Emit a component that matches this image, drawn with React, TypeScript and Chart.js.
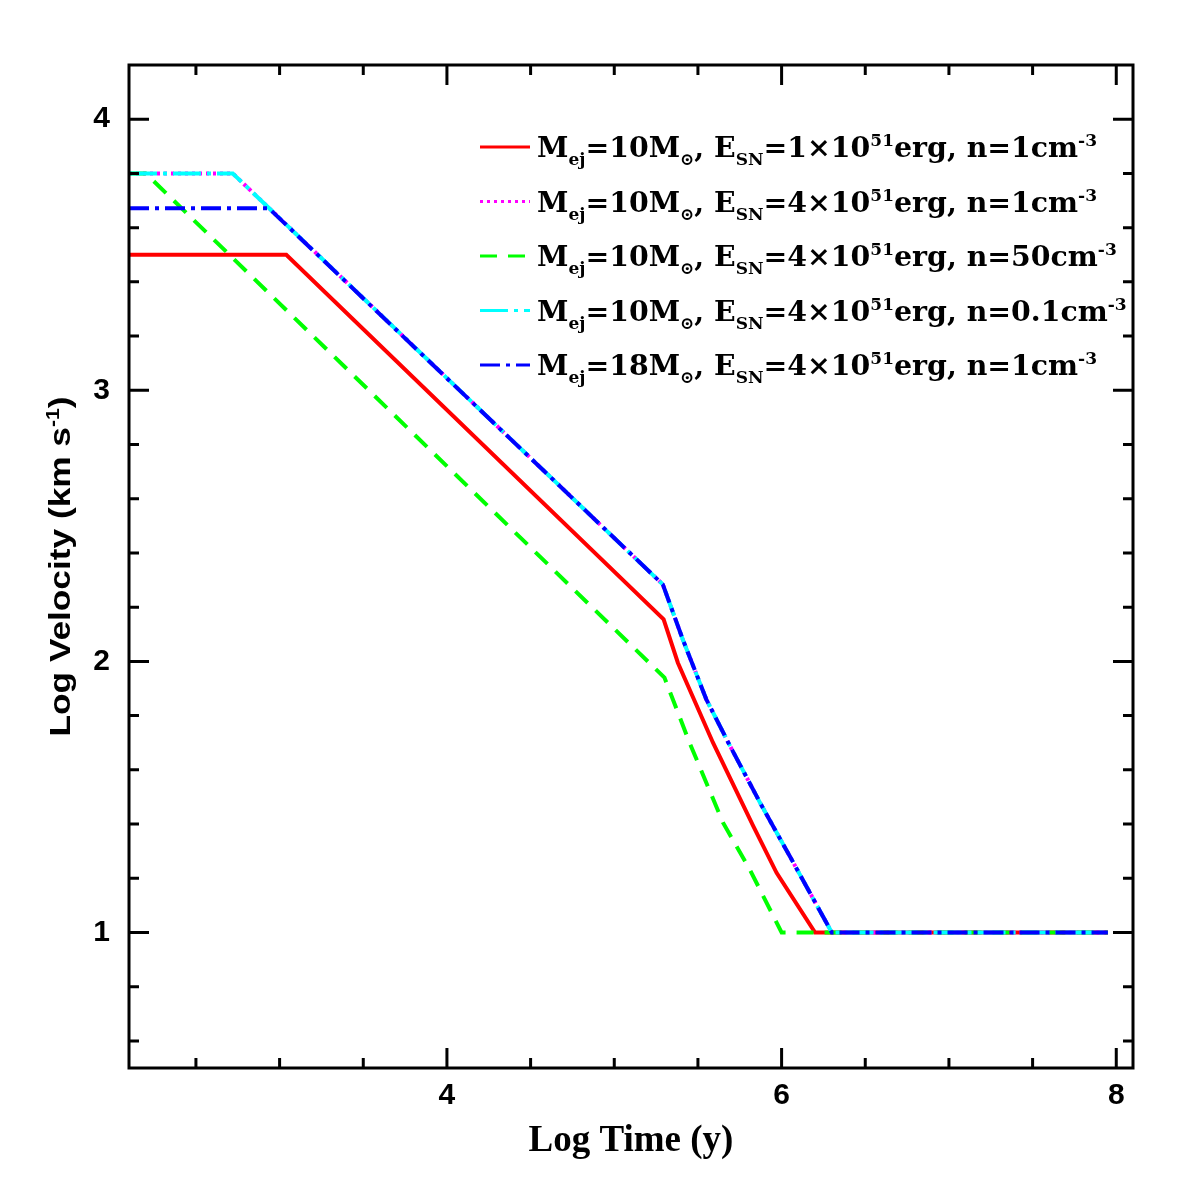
import React, { useEffect, useRef } from 'react';
import { Chart, registerables } from 'chart.js';

Chart.register(...registerables);

// ---------- data ----------
const logTimeRed = [2.1, 3.04, 5.295, 5.38, 5.59, 5.83, 5.97, 6.2, 7.95];
const logVelRed = [3.5, 3.5, 2.155, 1.995, 1.7, 1.393, 1.22, 1.0, 1.0];

const logTimeMagenta = [2.1, 2.72, 5.29, 5.41, 5.55, 5.69, 5.87, 6.05, 6.3, 7.95];
const logVelMagenta = [3.8, 3.8, 2.284, 2.08, 1.86, 1.69, 1.48, 1.28, 1.0, 1.0];

const logTimeGreen = [2.1, 2.2, 5.3, 5.45, 5.65, 5.81, 6.0, 7.95];
const logVelGreen = [3.8, 3.8, 1.94, 1.7, 1.405, 1.232, 1.0, 1.0];

const logTimeCyan = [2.1, 2.72, 5.29, 5.41, 5.55, 5.69, 5.87, 6.05, 6.3, 7.95];
const logVelCyan = [3.8, 3.8, 2.284, 2.08, 1.86, 1.69, 1.48, 1.28, 1.0, 1.0];

const logTimeBlue = [2.1, 2.935, 5.29, 5.41, 5.55, 5.69, 5.87, 6.05, 6.3, 7.95];
const logVelBlue = [3.672, 3.672, 2.284, 2.08, 1.86, 1.69, 1.48, 1.28, 1.0, 1.0];

const legendMass = ['10', '10', '10', '10', '18'];
const legendEnergy = ['1', '4', '4', '4', '4'];
const legendDensity = ['1', '1', '50', '0.1', '1'];

const xMinorTicks = [2.5, 3, 3.5, 4, 4.5, 5, 5.5, 6, 6.5, 7, 7.5, 8];
const xMajorTicks = [4, 6, 8];
const yMinorTicks = [0.6, 0.8, 1, 1.2, 1.4, 1.6, 1.8, 2, 2.2, 2.4, 2.6, 2.8, 3, 3.2, 3.4, 3.6, 3.8, 4];
const yMajorTicks = [1, 2, 3, 4];

const xTitle = 'Log Time (y)';
const yTitleMain = 'Log Velocity (km s';
const yTitleSup = '-1';

// ---------- styles ----------
const seriesColors = ['#ff0000', '#ff00ff', '#00ff00', '#00ffff', '#0000ff'];
const seriesDashes: number[][] = [[], [3, 4], [17, 11], [28, 6, 4, 6], [20, 6, 4, 6]];

type Seg = { t: string; k?: 'sub' | 'sup' };

function segFont(s: Seg, size: number, family: string) {
  const fs = s.k ? size * 0.6 : size;
  return `bold ${fs}px ${family}`;
}

function richWidth(ctx: CanvasRenderingContext2D, segs: Seg[], size: number, family: string) {
  let w = 0;
  for (const s of segs) {
    ctx.font = segFont(s, size, family);
    w += ctx.measureText(s.t).width;
  }
  return w;
}

function drawRich(ctx: CanvasRenderingContext2D, segs: Seg[], x: number, baseline: number, size: number, family: string) {
  let cx = x;
  ctx.textBaseline = 'alphabetic';
  ctx.textAlign = 'left';
  for (const s of segs) {
    ctx.font = segFont(s, size, family);
    const dy = s.k === 'sub' ? size * 0.3 : s.k === 'sup' ? -size * 0.38 : 0;
    ctx.fillText(s.t, cx, baseline + dy);
    cx += ctx.measureText(s.t).width;
  }
}

function legendSegs(i: number): Seg[] {
  return [
    { t: 'M' },
    { t: 'ej', k: 'sub' },
    { t: '=' + legendMass[i] + 'M' },
    { t: '\u2299', k: 'sub' },
    { t: ', E' },
    { t: 'SN', k: 'sub' },
    { t: '=' + legendEnergy[i] + '\u00d710' },
    { t: '51', k: 'sup' },
    { t: 'erg, n=' + legendDensity[i] + 'cm' },
    { t: '-3', k: 'sup' },
  ];
}

const LEGEND_FAMILY = "'DejaVu Serif', 'DejaVu Sans', serif";
const LEGEND_SIZE = 28;

const decorPlugin = {
  id: 'decor',
  afterDatasetsDraw(chart: any) {
    const { ctx, chartArea: a, scales } = chart;
    ctx.save();
    ctx.strokeStyle = '#000';
    ctx.lineWidth = 3;
    ctx.lineCap = 'butt';
    ctx.setLineDash([]);
    ctx.beginPath();
    for (const v of xMinorTicks) {
      const px = scales.x.getPixelForValue(v);
      const len = xMajorTicks.includes(v) ? 20 : 10;
      ctx.moveTo(px, a.bottom);
      ctx.lineTo(px, a.bottom - len);
      ctx.moveTo(px, a.top);
      ctx.lineTo(px, a.top + len);
    }
    for (const v of yMinorTicks) {
      const py = scales.y.getPixelForValue(v);
      const len = yMajorTicks.includes(v) ? 20 : 10;
      ctx.moveTo(a.left, py);
      ctx.lineTo(a.left + len, py);
      ctx.moveTo(a.right, py);
      ctx.lineTo(a.right - len, py);
    }
    ctx.stroke();
    ctx.lineJoin = 'miter';
    ctx.strokeRect(a.left, a.top, a.right - a.left, a.bottom - a.top);
    ctx.restore();
  },
  afterDraw(chart: any) {
    const { ctx, chartArea: a } = chart;
    ctx.save();
    ctx.fillStyle = '#000';

    // legend
    const rowTop = 147;
    const rowGap = 54.5;
    const naturalW = richWidth(ctx, legendSegs(0), LEGEND_SIZE, LEGEND_FAMILY);
    const sx = 560 / naturalW;
    for (let i = 0; i < 5; i++) {
      const y = rowTop + i * rowGap;
      ctx.save();
      ctx.strokeStyle = seriesColors[i];
      ctx.lineWidth = 3;
      ctx.setLineDash(seriesDashes[i]);
      ctx.beginPath();
      ctx.moveTo(480, y);
      ctx.lineTo(530, y);
      ctx.stroke();
      ctx.restore();
      ctx.save();
      ctx.translate(537, y + 10);
      ctx.scale(sx, 1);
      ctx.fillStyle = '#000';
      drawRich(ctx, legendSegs(i), 0, 0, LEGEND_SIZE, LEGEND_FAMILY);
      ctx.restore();
    }

    // x title
    ctx.font = "bold 37px 'Liberation Serif', serif";
    ctx.textAlign = 'center';
    ctx.textBaseline = 'alphabetic';
    ctx.fillText(xTitle, (a.left + a.right) / 2, 1151);

    // y title (rotated)
    const ySegs: Seg[] = [{ t: yTitleMain }, { t: yTitleSup, k: 'sup' }, { t: ')' }];
    const yFam = "'Liberation Sans', Arial, sans-serif";
    const yW = richWidth(ctx, ySegs, 30, yFam);
    const ysx = 340 / yW;
    ctx.save();
    ctx.translate(70, (a.top + a.bottom) / 2);
    ctx.rotate(-Math.PI / 2);
    ctx.scale(ysx, 1);
    drawRich(ctx, ySegs, -yW / 2, 0, 30, yFam);
    ctx.restore();

    ctx.restore();
  },
};

function makeData(xs: number[], ys: number[]) {
  return xs.map((x, i) => ({ x, y: ys[i] }));
}

export default function App() {
  const ref = useRef<HTMLCanvasElement | null>(null);

  useEffect(() => {
    if (!ref.current) return;
    const series = [
      makeData(logTimeRed, logVelRed),
      makeData(logTimeMagenta, logVelMagenta),
      makeData(logTimeGreen, logVelGreen),
      makeData(logTimeCyan, logVelCyan),
      makeData(logTimeBlue, logVelBlue),
    ];
    const tickFont = { family: "'Liberation Sans', Arial, sans-serif", size: 30, weight: 'bold' as const };
    const chart = new Chart(ref.current, {
      type: 'line',
      data: {
        datasets: series.map((d, i) => ({
          data: d,
          borderColor: seriesColors[i],
          backgroundColor: seriesColors[i],
          borderWidth: 4,
          borderDash: seriesDashes[i],
          borderJoinStyle: 'miter' as const,
          borderCapStyle: 'butt' as const,
          pointRadius: 0,
          tension: 0,
          fill: false,
          order: 5 - i,
        })),
      },
      options: {
        animation: false,
        responsive: false,
        devicePixelRatio: 1,
        layout: { padding: { left: 0, top: 65, right: 63, bottom: 0 } },
        plugins: { legend: { display: false }, tooltip: { enabled: false } },
        scales: {
          x: {
            type: 'linear',
            min: 2.1,
            max: 8.1,
            position: 'bottom',
            grid: { display: false, drawTicks: false },
            border: { display: false },
            afterBuildTicks: (s: any) => {
              s.ticks = xMinorTicks.map((value) => ({ value }));
            },
            afterFit: (s: any) => {
              s.height = 128;
            },
            ticks: {
              autoSkip: false,
              maxRotation: 0,
              minRotation: 0,
              padding: 10,
              color: '#000',
              font: tickFont,
              callback: (v: any) => (xMajorTicks.includes(v) ? String(v) : ''),
            },
          },
          y: {
            type: 'linear',
            min: 0.5,
            max: 4.2,
            position: 'left',
            grid: { display: false, drawTicks: false },
            border: { display: false },
            afterBuildTicks: (s: any) => {
              s.ticks = yMinorTicks.map((value) => ({ value }));
            },
            afterFit: (s: any) => {
              s.width = 129;
            },
            ticks: {
              autoSkip: false,
              padding: 19,
              color: '#000',
              font: tickFont,
              callback: (v: any) => (yMajorTicks.includes(v) ? String(v) : ''),
            },
          },
        },
      },
      plugins: [decorPlugin],
    });
    return () => chart.destroy();
  }, []);

  return (
    <div style={{ position: 'fixed', left: 0, top: 0, width: 1196, height: 1196, background: '#fff' }}>
      <canvas ref={ref} width={1196} height={1196} style={{ display: 'block' }} />
    </div>
  );
}
